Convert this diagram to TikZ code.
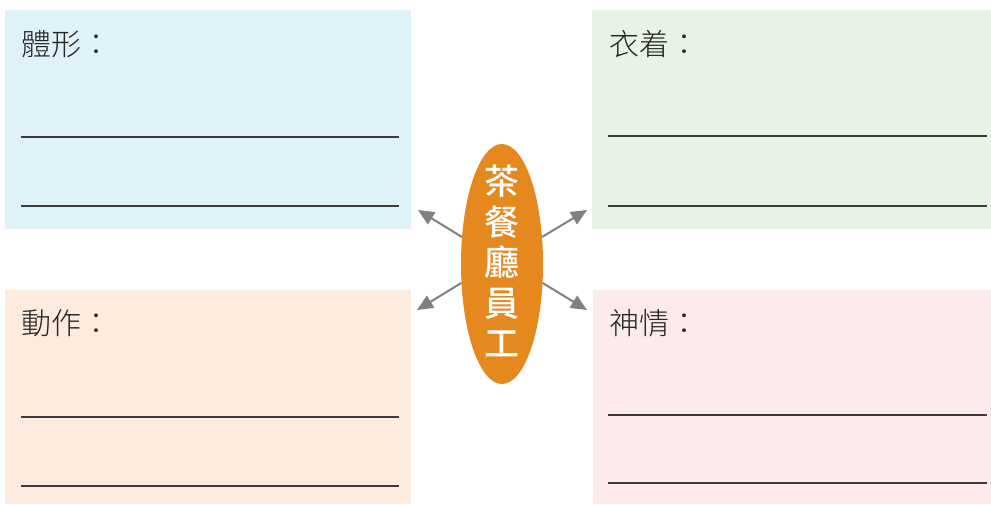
\documentclass[tikz,border=0pt]{standalone}
\usepackage{fontspec}
\usetikzlibrary{shapes.geometric,arrows.meta}
\newfontfamily\cjk{Noto Sans CJK TC Medium}
\newfontfamily\cjklight{Noto Sans CJK TC Light}
\definecolor{boxblue}{HTML}{DFF2FA}
\definecolor{boxgreen}{HTML}{E8F3E6}
\definecolor{boxpeach}{HTML}{FDEBDD}
\definecolor{boxpink}{HTML}{FDEBEC}
\definecolor{ovalorange}{HTML}{E5891F}
\definecolor{arrowgray}{HTML}{808082}
\definecolor{linegray}{HTML}{3C3A3A}
\begin{document}
\begin{tikzpicture}[x=1pt,y=-1pt,
  panel/.style={draw=none,inner sep=0,outer sep=0,anchor=north west},
  title/.style={inner sep=0,anchor=base west,font=\cjklight\fontsize{30}{30}\selectfont,text=black!85},
  rule/.style={draw=linegray,line width=1.4pt},
  pointer/.style={draw=arrowgray,line width=2pt,-{Triangle[length=16pt,width=14pt]}}]
\useasboundingbox (0,0) rectangle (991,504);
% panels
\node[panel,fill=boxblue,minimum width=406pt,minimum height=219pt] (tl) at (5,10) {};
\node[panel,fill=boxgreen,minimum width=399pt,minimum height=219pt] (tr) at (592,10) {};
\node[panel,fill=boxpeach,minimum width=406pt,minimum height=214pt] (bl) at (5,290) {};
\node[panel,fill=boxpink,minimum width=398pt,minimum height=214pt] (br) at (593,290) {};
% titles
\node[title] (ttl) at (21,55) {體形：};
\node[title] (ttr) at (609,55) {衣着：};
\node[title] (tbl) at (21,334) {動作：};
\node[title] (tbr) at (609,334) {神情：};
% writing lines
\coordinate (l1a) at (21,137); \coordinate (l1b) at (399,137);
\coordinate (l2a) at (21,206); \coordinate (l2b) at (399,206);
\coordinate (l3a) at (608,136); \coordinate (l3b) at (987,136);
\coordinate (l4a) at (608,206); \coordinate (l4b) at (987,206);
\coordinate (l5a) at (21,417); \coordinate (l5b) at (399,417);
\coordinate (l6a) at (21,486); \coordinate (l6b) at (399,486);
\coordinate (l7a) at (608,415); \coordinate (l7b) at (987,415);
\coordinate (l8a) at (608,483); \coordinate (l8b) at (987,483);
\foreach \i in {1,...,8} {\draw[rule] (l\i a) -- (l\i b);}
% centre oval
\node[ellipse,fill=ovalorange,draw=none,minimum width=82pt,minimum height=240pt,inner sep=0] (oval) at (502,264) {};
\node[align=center,text=white,inner sep=0,font=\cjk\fontsize{35}{40.5}\selectfont] (word) at (502,261) {茶\\餐\\廳\\員\\工};
% arrows
\coordinate (ptl) at (418,210);
\coordinate (ptr) at (587,210);
\coordinate (pbl) at (417,310);
\coordinate (pbr) at (587,310);
\draw[pointer] (oval.146) -- (ptl);
\draw[pointer] (oval.34) -- (ptr);
\draw[pointer] (oval.205) -- (pbl);
\draw[pointer] (oval.-25) -- (pbr);
\end{tikzpicture}
\end{document}
